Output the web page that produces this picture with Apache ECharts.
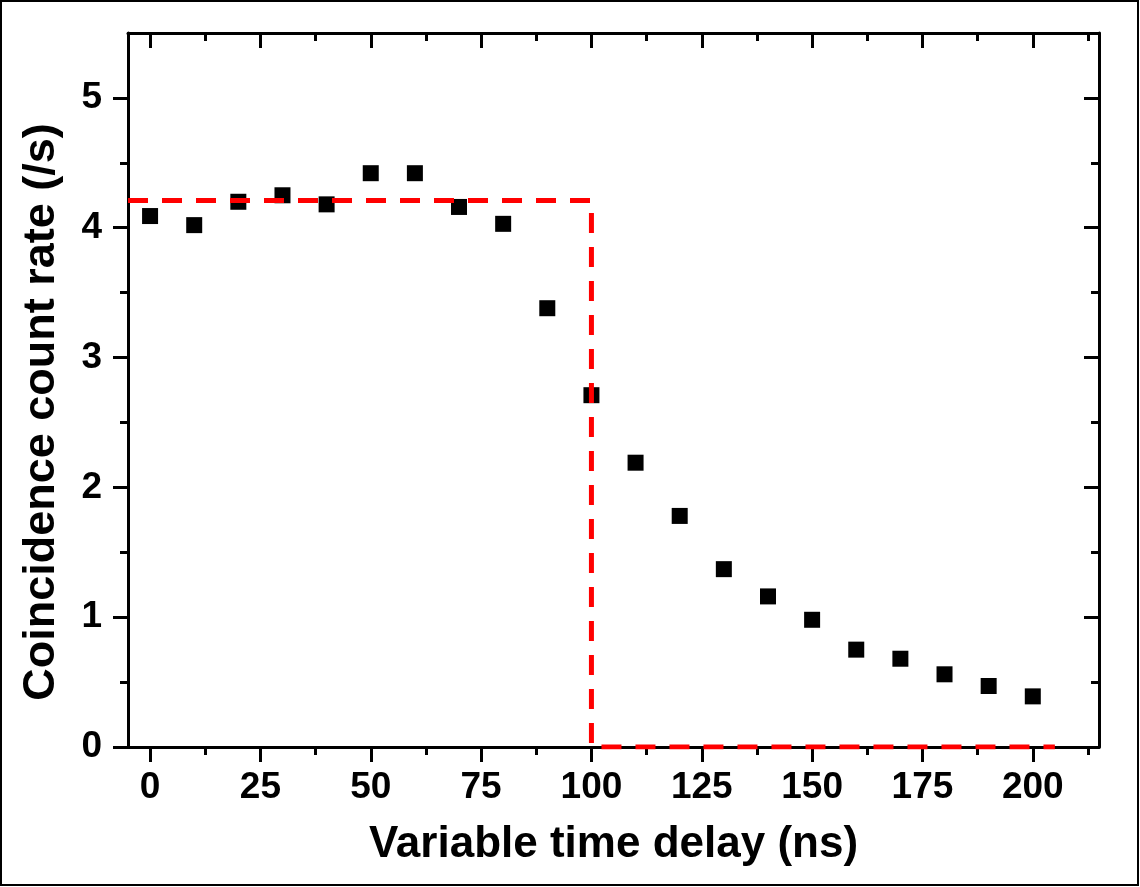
<!DOCTYPE html>
<html>
<head>
<meta charset="utf-8">
<script src="https://cdn.jsdelivr.net/npm/echarts@6/dist/echarts.min.js"></script>
<style>
  html, body { margin: 0; padding: 0; background: #fff; }
  #chart { width: 1140px; height: 887px; }
</style>
</head>
<body>
<div id="chart"></div>
<script>
// measured coincidence rate vs delay
var delays = [0, 10, 20, 30, 40, 50, 60, 70, 80, 90, 100, 110, 120, 130, 140, 150, 160, 170, 180, 190, 200];
var rates = [4.09, 4.02, 4.20, 4.25, 4.18, 4.42, 4.42, 4.16, 4.03, 3.38, 2.71, 2.19, 1.78, 1.37, 1.16, 0.98, 0.75, 0.68, 0.56, 0.47, 0.39];

// red dashed step (expected window)
var stepX = [-5, 100, 100, 205];
var stepY = [4.21, 4.21, 0, 0];

var xMajor = [0, 25, 50, 75, 100, 125, 150, 175, 200];
var xMinor = [12.5, 37.5, 62.5, 87.5, 112.5, 137.5, 162.5, 187.5, 212.5];
var yMajor = [0, 1, 2, 3, 4, 5];
var yMinor = [0.5, 1.5, 2.5, 3.5, 4.5];

var font = "'Liberation Sans', Arial, sans-serif";
var black = "#000";

function xAx(pos, ticks, len, inside, showLine, label, name) {
  return {
    type: "value",
    position: pos,
    min: -5,
    max: 215,
    splitLine: { show: false },
    axisLine: { show: showLine, onZero: false, lineStyle: { color: black, width: 3 } },
    axisTick: { show: true, customValues: ticks, length: len, inside: inside, lineStyle: { color: black, width: 3 } },
    axisLabel: label
      ? { show: true, customValues: ticks, margin: 22, color: black, fontSize: 37, fontWeight: "bold", fontFamily: font }
      : { show: false },
    name: name || "",
    nameLocation: "middle",
    nameGap: 76,
    nameTextStyle: { color: black, fontSize: 44, fontWeight: "bold", fontFamily: font },
  };
}

function yAx(pos, ticks, len, inside, showLine, label, name) {
  return {
    type: "value",
    position: pos,
    min: 0,
    max: 5.5,
    splitLine: { show: false },
    axisLine: { show: showLine, onZero: false, lineStyle: { color: black, width: 3 } },
    axisTick: { show: true, customValues: ticks, length: len, inside: inside, lineStyle: { color: black, width: 3 } },
    axisLabel: label
      ? { show: true, customValues: ticks, margin: 26, color: black, fontSize: 37, fontWeight: "bold", fontFamily: font }
      : { show: false },
    name: name || "",
    nameLocation: "middle",
    nameGap: 64,
    nameTextStyle: { color: black, fontSize: 45, fontWeight: "bold", fontFamily: font, padding: [0, 44, 0, 0] },
  };
}

var chart = echarts.init(document.getElementById("chart"));
var option = {
  backgroundColor: "#fff",
  animation: false,
  grid: { left: 128, right: 41, top: 33, bottom: 140, outerBoundsMode: "none" },
  graphic: [
    {
      type: "rect",
      shape: { x: 1, y: 1, width: 1137, height: 884 },
      style: { fill: null, stroke: black, lineWidth: 2 },
      silent: true,
    },
  ],
  xAxis: [
    xAx("bottom", xMajor, 15, false, true, true, "Variable time delay (ns)"),
    xAx("bottom", xMinor, 8, false, false, false),
    xAx("top", xMajor, 15, true, true, false),
    xAx("top", xMinor, 8, true, false, false),
  ],
  yAxis: [
    yAx("left", yMajor, 15, false, true, true, "Coincidence count rate (/s)"),
    yAx("left", yMinor, 8, false, false, false),
    yAx("right", yMajor, 15, true, true, false),
    yAx("right", yMinor, 8, true, false, false),
  ],
  series: [
    {
      type: "scatter",
      xAxisIndex: 0,
      yAxisIndex: 0,
      symbol: "rect",
      symbolSize: 16,
      itemStyle: { color: black, opacity: 1 },
      data: delays.map(function (d, i) { return [d, rates[i]]; }),
      z: 2,
    },
    {
      type: "line",
      xAxisIndex: 0,
      yAxisIndex: 0,
      showSymbol: false,
      symbol: "none",
      lineStyle: { color: "#ff0000", width: 5, type: [20, 14] },
      data: stepX.map(function (x, i) { return [x, stepY[i]]; }),
      z: 3,
    },
  ],
};
chart.setOption(option);
</script>
</body>
</html>
